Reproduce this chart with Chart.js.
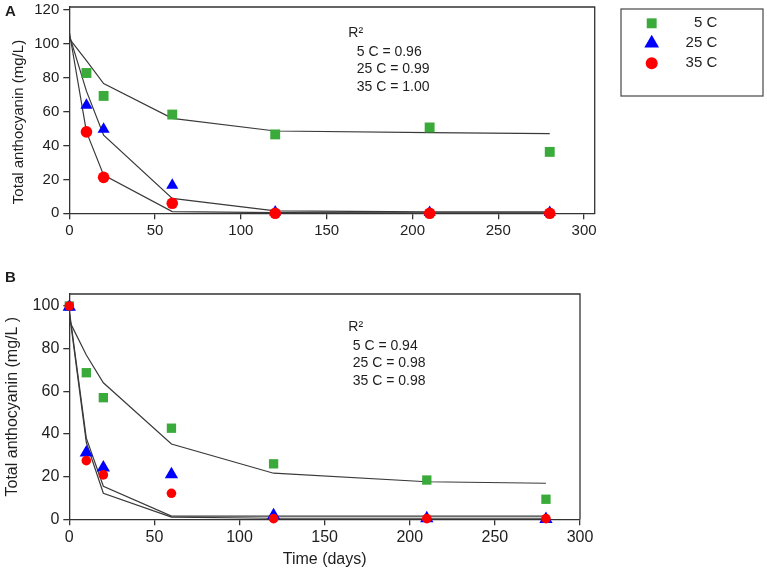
<!DOCTYPE html>
<html>
<head>
<meta charset="utf-8">
<title>Total anthocyanin vs time</title>
<script src="https://cdn.jsdelivr.net/npm/chart.js@4.4.1/dist/chart.umd.min.js"></script>
<style>
  html, body { margin: 0; padding: 0; background: #fff; }
  #wrap { position: relative; width: 767px; height: 573px; overflow: hidden; }
  canvas { position: absolute; left: 0; }
  #chartA { top: 0; }
  #chartB { top: 265px; }
</style>
</head>
<body>
<div id="wrap">
  <canvas id="chartA" width="767" height="260"></canvas>
  <canvas id="chartB" width="767" height="308"></canvas>
</div>
<script>
/* data */
const SERIES   = ['5 C', '25 C', '35 C'];
const X_TICKS  = [0, 50, 100, 150, 200, 250, 300];
const Y_TICKS_A = [0, 20, 40, 60, 80, 100, 120];
const Y_TICKS_B = [0, 20, 40, 60, 80, 100];

// panel A – measured points
const DAYS_A = [10, 20, 60, 120, 210, 280];
const A_5C   = [82.7, 69.2, 58.2, 46.5, 50.6, 36.2];
const A_25C  = [63.7, 49.5, 16.5, 0.8, 0.4, 0.4];
const A_35C  = [48, 21.2, 5.9, 0, 0, 0];
// panel A – fitted curves
const FIT_DAYS  = [0, 10, 20, 60, 120, 210, 280];
const A_FIT_5C  = [103, 90, 76.5, 56, 48.5, 47.5, 47];
const A_FIT_25C = [105, 72, 46, 8.8, 1.4, 0.8, 0.8];
const A_FIT_35C = [107, 48, 22.5, 1, 0.4, 0.3, 0.3];
const R2_A = ['0.96', '0.99', '1.00'];

// panel B – measured points
const DAYS_B = [0, 10, 20, 60, 120, 210, 280];
const B_5C   = [100, 68.7, 57, 42.7, 26, 18.4, 9.4];
const B_25C  = [99.5, 31.2, 24.2, 21, 1.8, 0.4, 0.1];
const B_35C  = [100, 27.5, 20.8, 12.2, 0.3, 0.3, 0.3];
// panel B – fitted curves
const B_FIT_5C  = [93, 77, 64, 35.3, 21.6, 17.6, 16.9];
const B_FIT_25C = [98, 38, 15.5, 1.5, 1.5, 1.5, 1.5];
const B_FIT_35C = [97, 36, 12.2, 1, 0.5, 0.5, 0.5];
const R2_B = ['0.94', '0.98', '0.98'];

const INK   = '#333333';
const TEXT  = '#1e1e1e';
const GREEN = '#3aaa3a';
const BLUE  = '#0000ff';
const RED   = '#ff0000';
const FONT  = "'Liberation Sans', Arial, sans-serif";

const pts = (xs, ys) => xs.map((x, i) => ({ x, y: ys[i] }));

function marks(label, xs, ys, color, style, r, order) {
  return {
    type: 'scatter', label, data: pts(xs, ys),
    pointStyle: style, pointRadius: r, pointHoverRadius: r,
    backgroundColor: color, borderColor: color, borderWidth: 0,
    clip: false, order
  };
}

function fitLine(xs, ys) {
  return {
    type: 'line', label: 'fit', data: pts(xs, ys),
    borderColor: '#3a3a3a', borderWidth: 1.2, pointRadius: 0,
    tension: 0, fill: false, order: 10
  };
}

function text(ctx, str, x, y, size, align, bold) {
  ctx.font = (bold ? 'bold ' : '') + size + 'px ' + FONT;
  ctx.textAlign = align || 'left';
  ctx.textBaseline = 'middle';
  ctx.fillStyle = TEXT;
  ctx.fillText(str, x, y);
}

function vtext(ctx, str, x, y, size) {
  ctx.save();
  ctx.translate(x, y);
  ctx.rotate(-Math.PI / 2);
  text(ctx, str, 0, 0, size, 'center');
  ctx.restore();
}

function axis(min, max, ticks, size, pad, fit) {
  return {
    type: 'linear', min, max,
    afterBuildTicks: s => { s.ticks = ticks.map(value => ({ value })); },
    afterFit: s => {
      fit(s);
      s.paddingTop = s.paddingBottom = s.paddingLeft = s.paddingRight = 0;
    },
    border: { color: INK, width: 1.3 },
    grid: { drawOnChartArea: false, drawTicks: true, tickLength: 6, color: INK, lineWidth: 1.3 },
    ticks: { color: TEXT, padding: pad, font: { family: FONT, size } }
  };
}

function panel(id, area, xMax, yMax, yTicks, tickSize, datasets, draw) {
  const cv = document.getElementById(id);
  const W = cv.width, H = cv.height;
  return new Chart(cv, {
    type: 'scatter',
    data: { datasets },
    options: {
      responsive: false, animation: false, events: [],
      layout: { padding: { left: 0, top: area.top, right: W - area.right, bottom: 0 } },
      plugins: { legend: { display: false }, tooltip: { enabled: false } },
      scales: {
        x: axis(0, xMax, X_TICKS, tickSize, 3, s => { s.height = H - area.bottom; }),
        y: axis(0, yMax, yTicks, tickSize, 4, s => { s.width = area.left; })
      }
    },
    plugins: [{
      id: 'deco',
      afterDraw(chart) {
        const { ctx, chartArea: a } = chart;
        ctx.save();
        ctx.strokeStyle = INK;
        ctx.lineWidth = 1.3;
        ctx.beginPath();
        ctx.moveTo(a.left, a.top);
        ctx.lineTo(a.right, a.top);
        ctx.lineTo(a.right, a.bottom);
        ctx.stroke();
        draw(ctx, a);
        ctx.restore();
      }
    }]
  });
}

// panel A
panel('chartA', { left: 69.3, top: 6, right: 594.7, bottom: 213.3 }, 306.2, 121.6, Y_TICKS_A, 15, [
  marks(SERIES[2], DAYS_A, A_35C, RED, 'circle', 5.8, 1),
  marks(SERIES[1], DAYS_A, A_25C, BLUE, 'triangle', 7, 2),
  marks(SERIES[0], DAYS_A, A_5C, GREEN, 'rect', 7, 3),
  fitLine(FIT_DAYS, A_FIT_5C),
  fitLine(FIT_DAYS, A_FIT_25C),
  fitLine(FIT_DAYS, A_FIT_35C)
], ctx => {
  text(ctx, 'A', 5, 12, 15, 'left', true);
  vtext(ctx, 'Total anthocyanin (mg/L)', 18.5, 122, 15);
  text(ctx, 'R\u00b2', 348.3, 33.3, 14);
  [51.7, 69, 87.3].forEach((y, i) => text(ctx, SERIES[i] + ' = ' + R2_A[i], 356.7, y, 14));

  // legend box
  ctx.strokeStyle = '#555';
  ctx.lineWidth = 1.3;
  ctx.strokeRect(621, 9, 142, 87);
  const styles = [['rect', GREEN, 7], ['triangle', BLUE, 8.5], ['circle', RED, 6]];
  [23.3, 43.3, 63.3].forEach((y, i) => {
    const [pointStyle, color, radius] = styles[i];
    ctx.fillStyle = color;
    ctx.strokeStyle = color;
    Chart.helpers.drawPoint(ctx, { pointStyle, radius, rotation: 0, borderWidth: 0 }, 651.7, y);
    text(ctx, SERIES[i], 717.3, y, 15, 'right');
  });
});

// panel B
panel('chartB', { left: 69.3, top: 29, right: 580, bottom: 254.3 }, 300, 105.6, Y_TICKS_B, 16, [
  marks(SERIES[2], DAYS_B, B_35C, RED, 'circle', 4.8, 1),
  marks(SERIES[1], DAYS_B, B_25C, BLUE, 'triangle', 7.7, 2),
  marks(SERIES[0], DAYS_B, B_5C, GREEN, 'rect', 6.6, 3),
  fitLine(FIT_DAYS, B_FIT_5C),
  fitLine(FIT_DAYS, B_FIT_25C),
  fitLine(FIT_DAYS, B_FIT_35C)
], (ctx, a) => {
  text(ctx, 'B', 5, 13.3, 15, 'left', true);
  vtext(ctx, 'Total anthocyanin (mg/L )', 13, (a.top + a.bottom) / 2, 16);
  text(ctx, 'Time (days)', (a.left + a.right) / 2, 295, 16, 'center');
  text(ctx, 'R\u00b2', 348.3, 62.3, 14);
  [81, 98.3, 115.7].forEach((y, i) => text(ctx, SERIES[i] + ' = ' + R2_B[i], 352.7, y, 14));
});
</script>
</body>
</html>
